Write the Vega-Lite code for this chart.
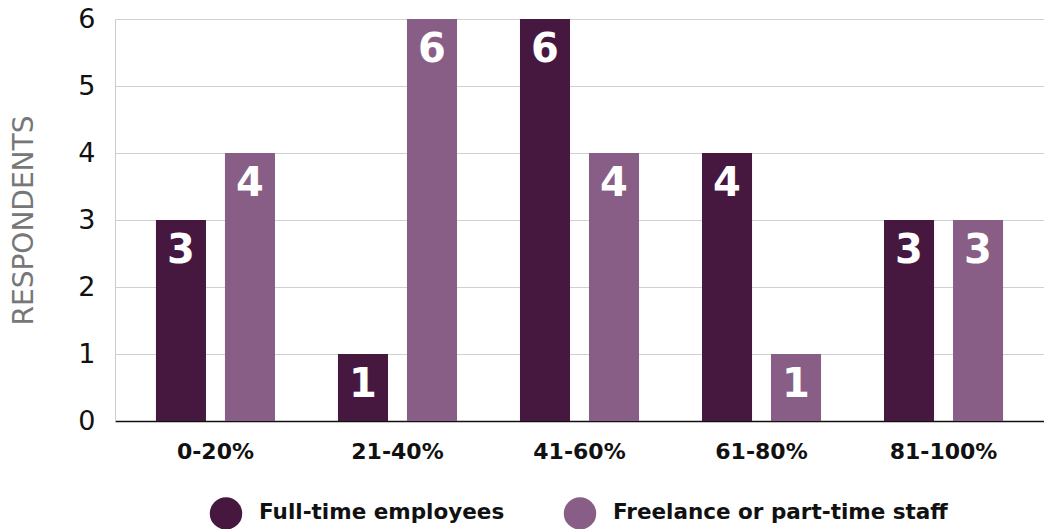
{
  "$schema": "https://vega.github.io/schema/vega-lite/v6.json",
  "width": 929,
  "height": 402,
  "autosize": {"type": "none"},
  "padding": {"left": 115, "top": 19, "right": 0, "bottom": 108},
  "background": "white",
  "config": {
    "font": "DejaVu Sans",
    "view": {"stroke": null}
  },
  "data": {
    "values": [
      {"range": "0-20%", "group": "Full-time employees", "count": 3},
      {"range": "0-20%", "group": "Freelance or part-time staff", "count": 4},
      {"range": "21-40%", "group": "Full-time employees", "count": 1},
      {"range": "21-40%", "group": "Freelance or part-time staff", "count": 6},
      {"range": "41-60%", "group": "Full-time employees", "count": 6},
      {"range": "41-60%", "group": "Freelance or part-time staff", "count": 4},
      {"range": "61-80%", "group": "Full-time employees", "count": 4},
      {"range": "61-80%", "group": "Freelance or part-time staff", "count": 1},
      {"range": "81-100%", "group": "Full-time employees", "count": 3},
      {"range": "81-100%", "group": "Freelance or part-time staff", "count": 3}
    ]
  },
  "encoding": {
    "x": {
      "field": "range", "type": "nominal", "sort": null,
      "scale": {"paddingInner": 0.346, "paddingOuter": 0.225},
      "axis": {
        "title": null, "labelAngle": 0, "labelFontSize": 22, "labelFontWeight": "bold",
        "labelColor": "#111111", "labelPadding": 20, "ticks": false,
        "domainColor": "#111111", "domainWidth": 1.5
      }
    },
    "xOffset": {
      "field": "group", "type": "nominal",
      "sort": ["Full-time employees", "Freelance or part-time staff"],
      "scale": {"paddingInner": 0.275, "paddingOuter": 0}
    },
    "y": {
      "field": "count", "type": "quantitative",
      "scale": {"domain": [0, 6], "nice": false},
      "axis": {
        "title": "RESPONDENTS", "titleFontSize": 28, "titleFontWeight": "normal",
        "titleColor": "#777777", "titlePadding": 39,
        "tickCount": 6, "labelFontSize": 27, "labelColor": "#111111",
        "labelPadding": 20, "ticks": false, "domainColor": "#cccccc",
        "gridColor": "#d0d0d0", "labelFontWeight": "normal"
      }
    }
  },
  "layer": [
    {
      "mark": {"type": "bar"},
      "encoding": {
        "color": {
          "field": "group", "type": "nominal",
          "sort": ["Full-time employees", "Freelance or part-time staff"],
          "scale": {"domain": ["Full-time employees", "Freelance or part-time staff"], "range": ["#461840", "#885e86"]},
          "legend": {
            "title": null, "orient": "none", "direction": "horizontal",
            "legendX": 94, "legendY": 477,
            "symbolType": "circle", "symbolSize": 1050, "symbolOpacity": 1,
            "labelFontSize": 21.5, "labelFontWeight": "bold", "labelColor": "#111111",
            "labelLimit": 400, "columnPadding": 58, "labelOffset": 16
          }
        }
      }
    },
    {
      "mark": {"type": "text", "color": "white", "fontSize": 40, "fontWeight": "bold", "baseline": "middle", "dy": 31},
      "encoding": {
        "text": {"field": "count", "type": "quantitative"}
      }
    }
  ]
}
